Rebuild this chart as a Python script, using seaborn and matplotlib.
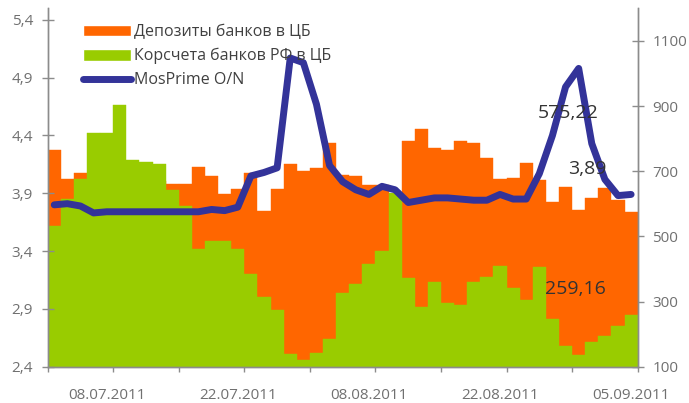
import matplotlib
matplotlib.use("Agg")
import matplotlib.pyplot as plt
from matplotlib.patches import Patch
from matplotlib.lines import Line2D
from matplotlib.ticker import FuncFormatter
import seaborn as sns
import numpy as np

# trading days, 08.07.2011 - 05.09.2011 (categorical axis)
day = list(range(45))

# deposits of banks at the CB, bn rub (right axis)
deposits = [764, 675, 696, 640, 620, 610, 650, 660, 670, 660,
            660, 712, 684, 629, 644, 693, 578, 644, 721, 700,
            710, 788, 687, 684, 657, 657, 600, 794, 831, 770,
            764, 794, 788, 739, 675, 678, 724, 672, 605, 650,
            580, 617, 647, 611, 575.22]

# correspondent accounts of russian banks at the CB, bn rub (right axis)
korschet = [532, 614, 675, 816, 816, 902, 733, 728, 721, 641,
            592, 460, 485, 485, 460, 385, 313, 274, 139, 120,
            143, 185, 326, 353, 415, 455, 634, 373, 284, 359,
            296, 289, 359, 375, 409, 342, 306, 405, 247, 163,
            137, 176, 194, 225, 259.16]

# MosPrime O/N, % (left axis)
mosprime = [3.80, 3.81, 3.79, 3.73, 3.74, 3.74, 3.74, 3.74, 3.74, 3.74,
            3.74, 3.74, 3.76, 3.75, 3.78, 4.05, 4.08, 4.12, 5.07, 5.03,
            4.67, 4.14, 4.00, 3.93, 3.89, 3.96, 3.93, 3.82, 3.84, 3.86,
            3.86, 3.85, 3.84, 3.84, 3.89, 3.85, 3.85, 4.07, 4.40, 4.82,
            4.98, 4.33, 4.02, 3.88, 3.89]

date_labels = ["08.07.2011", "22.07.2011", "08.08.2011", "22.08.2011", "05.09.2011"]
date_pos = [4, 14, 24, 34, 44]

ORANGE = "#FF6600"
GREEN = "#99CC00"
BLUE = "#333399"
GRAY = "#8c8c8c"
TXT = "#707070"

sns.set_style("white")
plt.rcParams['font.family'] = ['Open Sans', 'DejaVu Sans']

fig = plt.figure(figsize=(6.89, 4.03), dpi=100)
ax = fig.add_axes([0.0692, 0.0901, 0.8563, 0.8893])

sns.barplot(x=day, y=deposits, color=ORANGE, width=1, saturation=1,
            edgecolor=ORANGE, linewidth=0.3, errorbar=None, ax=ax)
sns.barplot(x=day, y=korschet, color=GREEN, width=1, saturation=1,
            edgecolor=GREEN, linewidth=0.3, errorbar=None, ax=ax)

ax2 = ax.twinx()
sns.lineplot(x=day, y=mosprime, color=BLUE, lw=5, ax=ax2,
             solid_capstyle='round', solid_joinstyle='round')

# bars on the right scale, rate on the left scale
ax.yaxis.tick_right()
ax2.yaxis.tick_left()
ax.set_ylim(100, 1200)
ax.set_yticks(np.arange(100, 1200, 200))
ax2.set_ylim(2.4, 5.5)
ax2.set_yticks(np.arange(2.4, 5.5, 0.5))
ax2.yaxis.set_major_formatter(FuncFormatter(lambda v, p: f"{v:.1f}".replace('.', ',')))

# tick marks between categories, date labels centred on a category
ax.set_xlim(-0.5, 44.5)
ax.set_xticks(np.arange(-0.5, 45, 5))
ax.set_xticklabels([])
ax.set_xticks(date_pos, date_labels, minor=True)

for a in (ax, ax2):
    a.set_xlabel('')
    a.set_ylabel('')
    a.spines['top'].set_visible(False)
    for s in ('left', 'right', 'bottom'):
        a.spines[s].set_color(GRAY)
        a.spines[s].set_linewidth(1.0)
    a.tick_params(axis='y', direction='inout', length=8, width=1, color=GRAY,
                  labelcolor=TXT, labelsize=11, pad=6.5)
ax.tick_params(axis='x', which='major', direction='out', length=3.6, width=1,
               color=GRAY, bottom=True)
ax.tick_params(axis='x', which='minor', length=0, labelcolor=TXT,
               labelsize=11, pad=15, bottom=True)

# value labels (drawn on the top axes so they sit over the line)
for xv, yv, s in [(39.2, 880, "575,22"), (40.65, 708, "3,89"), (39.75, 338, "259,16")]:
    ax2.text(xv, yv, s, transform=ax.transData, fontsize=14, color="#333333",
             ha='center', va='center', zorder=5)

handles = [Patch(facecolor=ORANGE), Patch(facecolor=GREEN),
           Line2D([], [], color=BLUE, lw=5, solid_capstyle='round')]
labels = ["Депозиты банков в ЦБ", "Корсчета банков РФ в ЦБ", "MosPrime O/N"]
leg = ax2.legend(handles, labels, loc='upper left', bbox_to_anchor=(0.0598, 0.956),
                 frameon=False, fontsize=11.5, handlelength=3.0, handleheight=0.75,
                 handletextpad=0.2, labelspacing=0.5, borderpad=0, borderaxespad=0)
for t in leg.get_texts():
    t.set_color("#404040")

fig.savefig("out.png", dpi=100)
